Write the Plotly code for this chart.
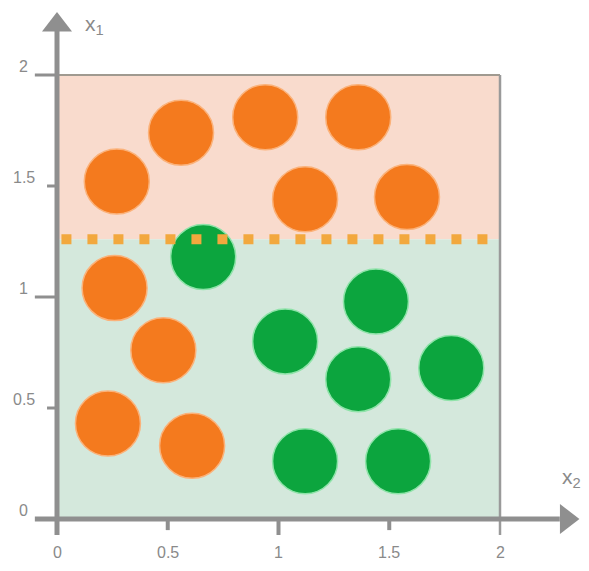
import plotly.graph_objects as go

# %%
# points (x2 horizontal, x1 vertical)
orange_x2 = [0.27, 0.56, 0.94, 1.36, 1.12, 1.58, 0.26, 0.48, 0.23, 0.61]
orange_x1 = [1.52, 1.74, 1.81, 1.81, 1.44, 1.45, 1.04, 0.76, 0.43, 0.33]
green_x2 = [0.66, 1.44, 1.03, 1.36, 1.78, 1.12, 1.54]
green_x1 = [1.18, 0.98, 0.80, 0.63, 0.68, 0.26, 0.26]

split_x1 = 1.26
tick_vals = [0, 0.5, 1, 1.5, 2]
tick_text = ["0", "0.5", "1", "1.5", "2"]

grey = "#8f8f8f"
label_grey = "#8a8a8a"

# %%
fig = go.Figure()

fig.add_trace(go.Scatter(
    x=orange_x2, y=orange_x1, mode="markers",
    marker=dict(size=65, color="#f47a1e", line=dict(color="#fbb27a", width=1.5)),
    hoverinfo="skip"))
fig.add_trace(go.Scatter(
    x=green_x2, y=green_x1, mode="markers",
    marker=dict(size=65, color="#0ca53e", line=dict(color="#8fe3a9", width=1.5)),
    hoverinfo="skip"))

# dotted split line
fig.add_trace(go.Scatter(
    x=[0.02, 2], y=[split_x1, split_x1], mode="lines",
    line=dict(color="#f2a83e", width=10, dash="10px,16px"),
    hoverinfo="skip"))

# arrow heads
fig.add_trace(go.Scatter(
    x=[0], y=[2.225], mode="markers",
    marker=dict(symbol="triangle-up", size=26, color=grey), hoverinfo="skip"))
fig.add_trace(go.Scatter(
    x=[2.30], y=[0], mode="markers",
    marker=dict(symbol="triangle-right", size=26, color=grey), hoverinfo="skip"))

shapes = [
    # region backgrounds
    dict(type="rect", x0=0, x1=2, y0=split_x1, y1=2, fillcolor="#f9dbcd",
         line=dict(width=0), layer="below"),
    dict(type="rect", x0=0, x1=2, y0=0, y1=split_x1, fillcolor="#d4e8dc",
         line=dict(width=0), layer="below"),
    # box border
    dict(type="line", x0=0, x1=2, y0=2, y1=2, line=dict(color="#a09a90", width=2), layer="below"),
    dict(type="line", x0=2, x1=2, y0=-0.072, y1=2, line=dict(color="#9a9a9a", width=2.5), layer="below"),
    # axes
    dict(type="line", x0=0, x1=0, y0=-0.072, y1=2.2, line=dict(color=grey, width=5)),
    dict(type="line", x0=-0.1, x1=2.27, y0=0, y1=0, line=dict(color=grey, width=5)),
]
# x ticks
for v in tick_vals[1:-1]:
    long = v == 1
    shapes.append(dict(type="line", x0=v, x1=v, y0=0, y1=-0.072 if long else -0.05,
                       line=dict(color=grey, width=4)))
# y ticks
for v in tick_vals[1:]:
    long = v in (1, 2)
    shapes.append(dict(type="line", x0=-0.1 if long else -0.045, x1=0, y0=v, y1=v,
                       line=dict(color=grey, width=3)))

annotations = []
for v, t in zip(tick_vals, tick_text):
    annotations.append(dict(x=v, y=-0.153, text=t, showarrow=False,
                            font=dict(size=16, color=label_grey)))
    annotations.append(dict(x=-0.149, y=v + 0.04, text=t, showarrow=False,
                            font=dict(size=16, color=label_grey)))
annotations.append(dict(x=0.17, y=2.225, text="x<sub>1</sub>", showarrow=False,
                        font=dict(size=21, color=label_grey)))
annotations.append(dict(x=2.325, y=0.185, text="x<sub>2</sub>", showarrow=False,
                        font=dict(size=21, color=label_grey)))

# page body has an 8px margin, so the figure is drawn 8px in from the window edge
fig.update_layout(
    width=581, height=563,
    margin=dict(l=0, r=0, t=0, b=0),
    paper_bgcolor="white", plot_bgcolor="white",
    showlegend=False,
    font=dict(family="Arial, Liberation Sans, sans-serif"),
    xaxis=dict(range=[-0.2212, 2.4018], visible=False, fixedrange=True),
    yaxis=dict(range=[-0.2342, 2.3018], visible=False, fixedrange=True),
    shapes=shapes,
    annotations=annotations,
)

fig.write_html("out.html")
